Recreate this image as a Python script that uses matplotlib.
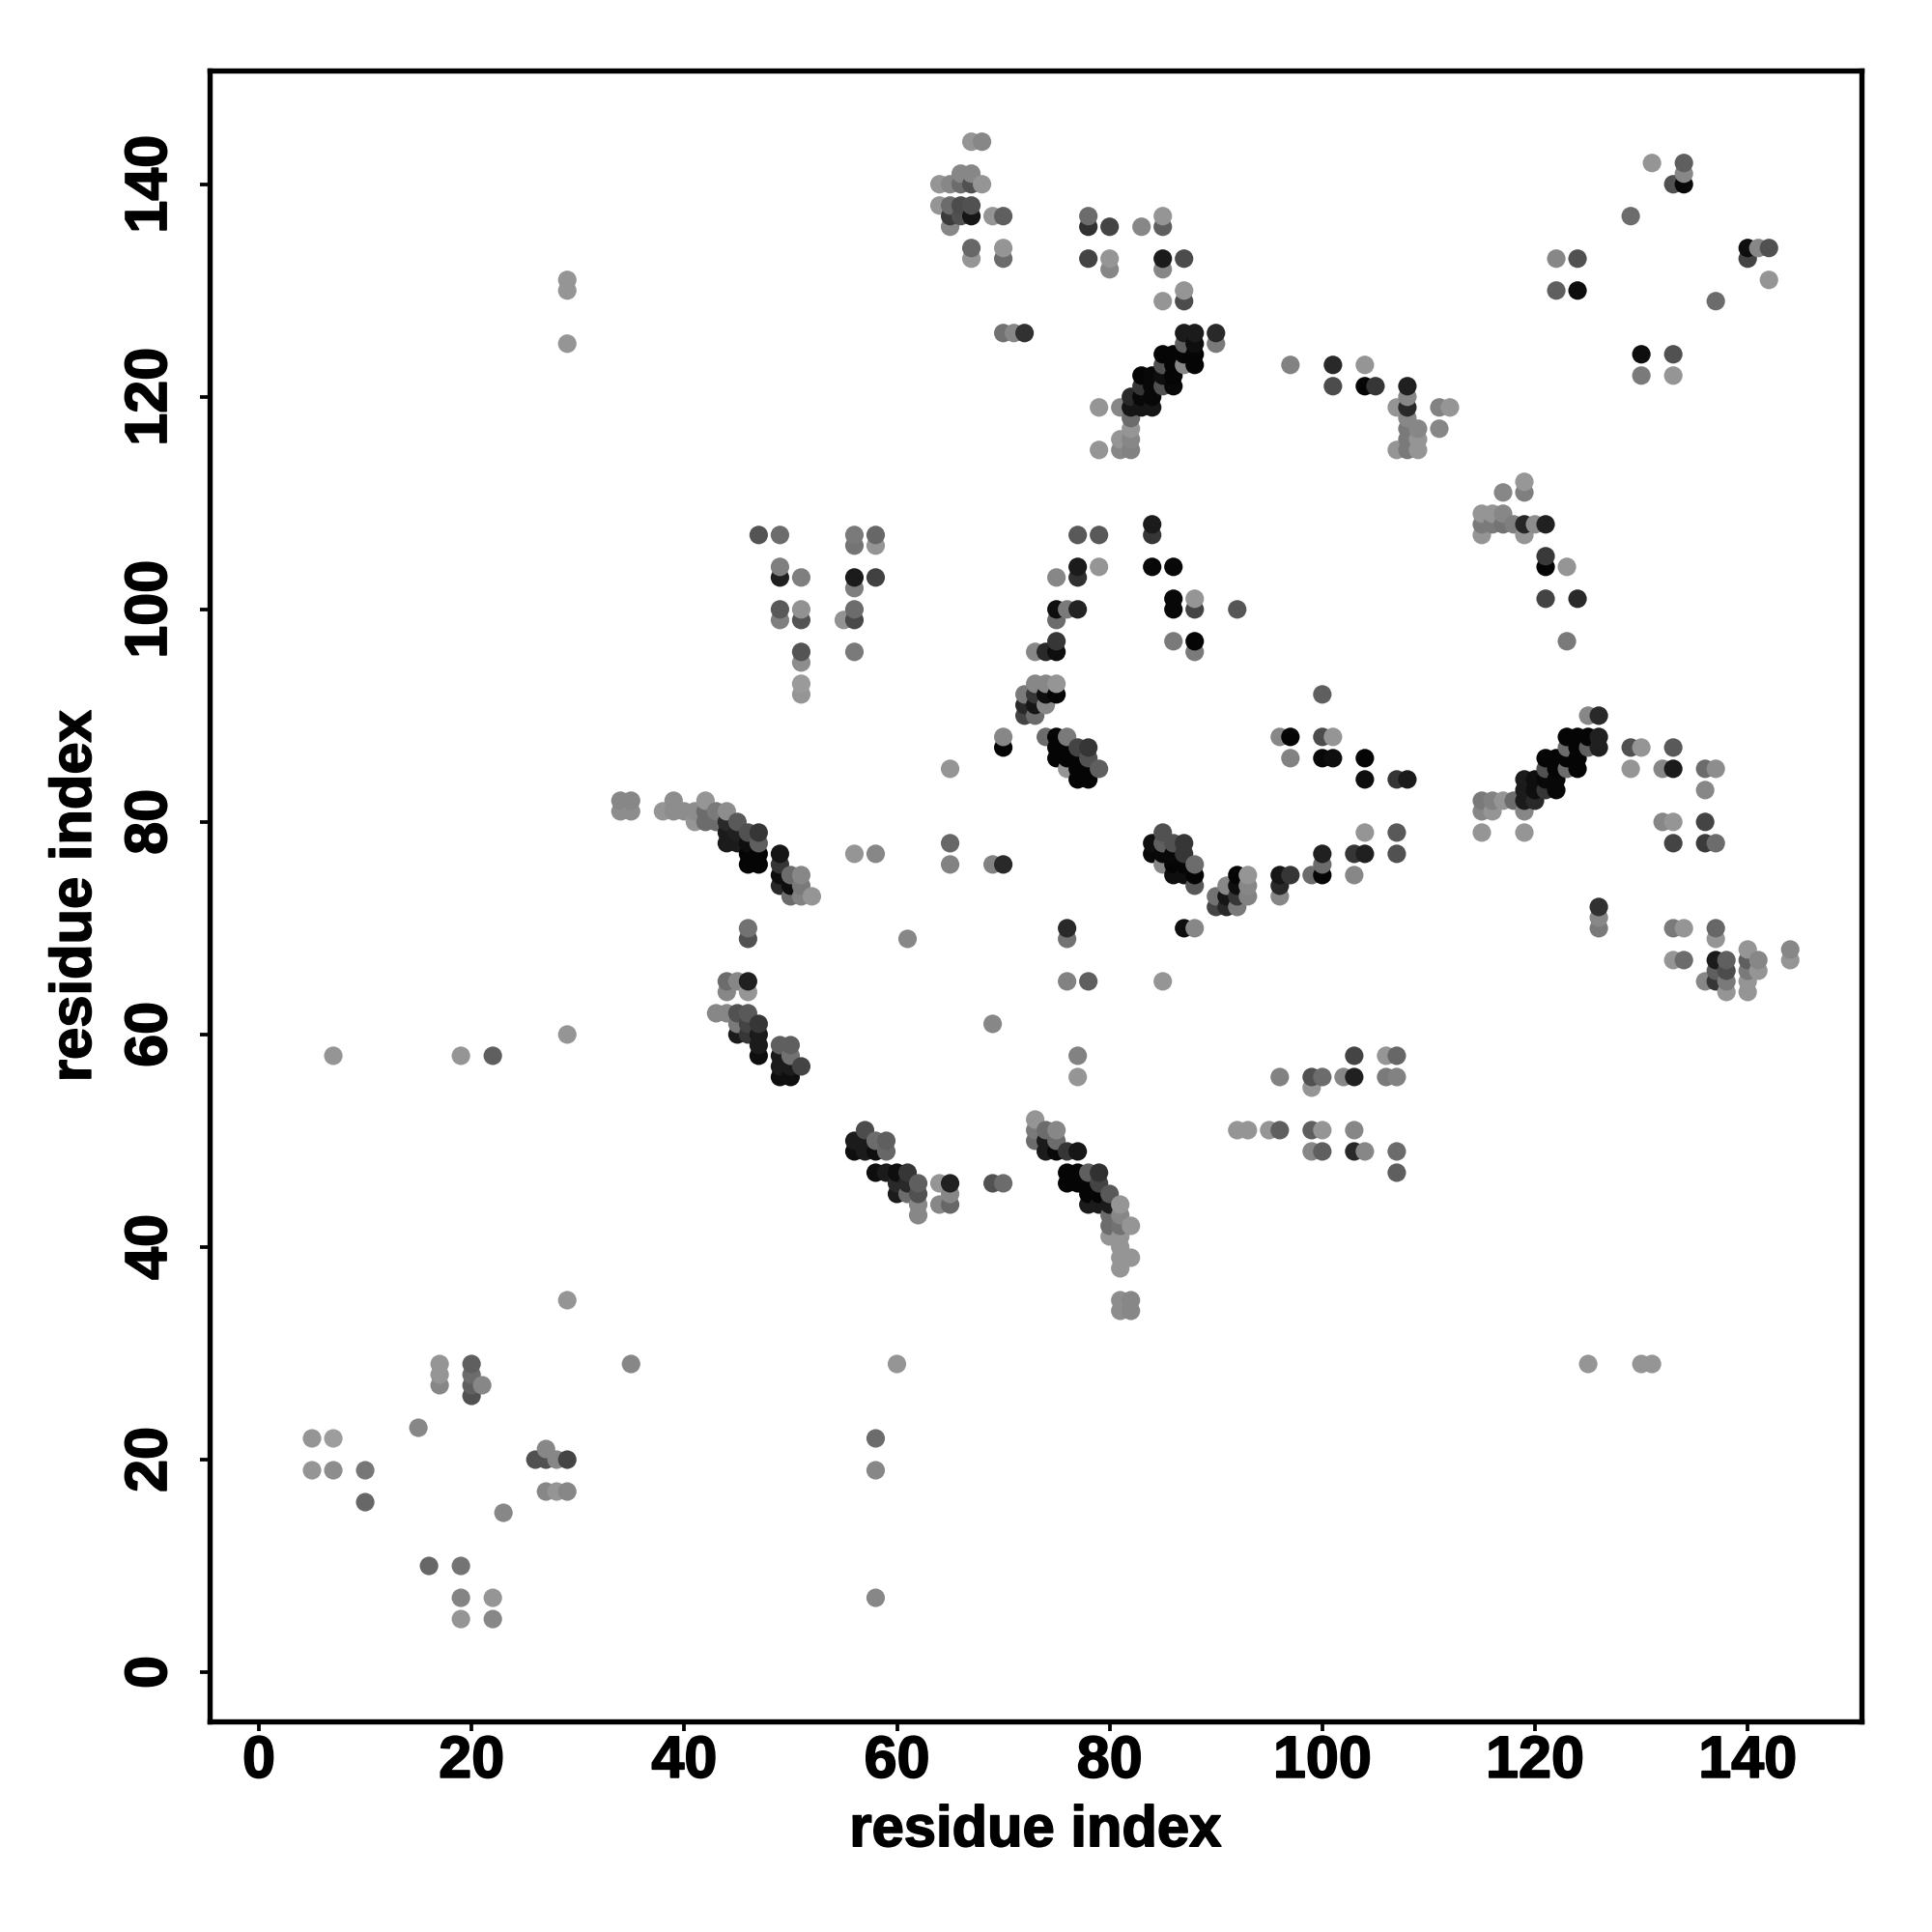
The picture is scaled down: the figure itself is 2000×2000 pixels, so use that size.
import matplotlib
matplotlib.use('Agg')
import matplotlib.pyplot as plt
import matplotlib.patheffects as pe
import numpy as np

# contact rows: one y value, then the x values and grey levels on that row
row_y = [144, 142, 141, 140, 138, 137, 136, 134, 133, 132, 131, 130, 129, 126, 125, 124,
         123, 122, 121, 120, 119, 118, 117, 116, 115, 112, 111, 109, 108, 107, 106, 105,
         104, 103, 102, 101, 100, 99, 97, 96, 95, 93, 92, 91, 90, 88, 87, 86,
         85, 84, 83, 82, 81, 80, 79, 78, 77, 76, 75, 74, 73, 72, 71, 70,
         69, 68, 67, 66, 65, 64, 62, 61, 60, 59, 58, 57, 56, 55, 52, 51,
         50, 49, 47, 46, 45, 44, 43, 42, 41, 40, 39, 38, 35, 34, 29, 28,
         27, 26, 23, 22, 21, 20, 19, 17, 16, 15, 10, 7, 5]

row_x = [
    [67, 68], [131, 134], [66, 67, 134], [64, 65, 66, 67, 68, 133, 134], [64, 65, 66, 67],
    [65, 66, 67, 69, 70, 78, 85, 129], [65, 78, 80, 83, 85], [67, 70, 140, 141, 142],
    [67, 70, 78, 80, 85, 87, 122, 124, 140], [80, 85], [29, 142], [29, 87, 122, 124],
    [85, 87, 137], [70, 71, 72, 87, 88, 90], [29, 87, 88, 90], [85, 86, 87, 88, 130, 133],
    [85, 86, 87, 88, 97, 101, 104], [83, 84, 85, 86, 130, 133],
    [83, 84, 85, 86, 101, 104, 105, 108], [82, 83, 84, 108],
    [79, 81, 82, 83, 84, 107, 108, 111, 112], [82, 108], [82, 108, 109, 111],
    [81, 82, 108, 109], [79, 81, 82, 107, 108, 109], [119], [117, 119], [115, 116, 117],
    [84, 115, 116, 117, 118, 119, 120, 121], [47, 49, 56, 58, 77, 79, 84, 115, 119],
    [56, 58], [121], [49, 77, 79, 84, 86, 121, 123], [49, 51, 56, 58, 75, 77], [56],
    [86, 88, 121, 124], [49, 51, 56, 75, 76, 77, 86, 88, 92], [49, 51, 55, 56, 75],
    [75, 86, 88, 123], [51, 56, 73, 74, 75, 88], [51], [51, 73, 74, 75],
    [51, 72, 73, 74, 75, 100], [72, 73, 74], [72, 73, 125, 126],
    [70, 74, 75, 76, 96, 97, 100, 101, 123, 124, 125, 126],
    [70, 75, 76, 77, 78, 123, 124, 125, 126, 129, 130, 133],
    [75, 76, 77, 78, 97, 100, 101, 104, 121, 122, 123, 124],
    [65, 76, 77, 78, 79, 121, 122, 123, 124, 129, 132, 133, 136, 137],
    [77, 78, 104, 107, 108, 119, 120, 121, 122], [119, 120, 121, 122, 136],
    [34, 35, 39, 42, 115, 116, 117, 118, 119, 120],
    [34, 35, 38, 39, 40, 41, 42, 43, 44, 115, 116, 119],
    [41, 42, 43, 44, 45, 132, 133, 136], [44, 45, 46, 47, 85, 104, 107, 115, 119],
    [44, 45, 46, 47, 65, 84, 85, 86, 87, 133, 136, 137],
    [46, 47, 49, 56, 58, 84, 85, 86, 87, 100, 103, 104, 107],
    [46, 47, 49, 65, 69, 70, 85, 86, 87, 88, 100],
    [49, 50, 51, 86, 87, 88, 92, 93, 96, 97, 99, 100, 103],
    [49, 50, 51, 88, 91, 92, 93, 96], [50, 51, 52, 90, 91, 92, 93, 96],
    [90, 91, 92, 126], [126], [46, 76, 87, 88, 126, 133, 134, 137], [46, 61, 76, 137],
    [140, 144], [133, 134, 137, 138, 140, 141, 144], [137, 138, 140, 141],
    [44, 45, 46, 76, 78, 85, 136, 137, 138, 140], [44, 46, 138, 140], [43, 44, 45, 46],
    [45, 46, 47, 69], [29, 45, 46, 47], [47, 49, 50],
    [7, 19, 22, 47, 49, 50, 77, 103, 106, 107], [49, 50, 51],
    [49, 50, 77, 96, 99, 100, 102, 103, 106, 107], [99], [73],
    [57, 73, 74, 75, 92, 93, 95, 96, 99, 100, 103], [56, 57, 58, 59, 73, 74, 75],
    [56, 57, 58, 59, 74, 75, 76, 77, 99, 100, 103, 104, 107],
    [58, 59, 60, 61, 76, 77, 78, 79, 107],
    [60, 61, 62, 64, 65, 69, 70, 76, 77, 78, 79], [60, 61, 62, 65, 78, 79, 80],
    [62, 64, 65, 78, 79, 80, 81], [62, 80, 81], [80, 81, 82], [80, 81], [81], [81, 82],
    [81], [29, 81, 82], [81, 82], [17, 20, 35, 60, 125, 130, 131], [17, 20], [17, 20, 21],
    [20], [15], [5, 7, 58], [27], [26, 27, 28, 29], [5, 7, 10, 58], [27, 28, 29], [10],
    [23], [16, 19], [19, 22, 58], [19, 22],
]

row_grey = [
    [.55, .5], [.55, .35], [.5, .5, .5], [.55, .5, .4, .3, .55, .3, .03], [.55, .4, .28, .3],
    [.22, .3, .08, .55, .35, .4, .55, .4], [.5, .18, .25, .5, .35], [.38, .55, .05, .5, .3],
    [.55, .4, .25, .55, .1, .28, .5, .3, .25], [.5, .5], [.55, .55], [.55, .55, .35, .05],
    [.55, .28, .4], [.42, .5, .18, .1, .1, .15], [.55, .35, .05, .45], [.02, .02, .02, .02, .05, .3],
    [.3, .02, .5, .02, .48, .15, .55], [.02, .03, .05, .02, .45, .55],
    [.2, .03, .3, .03, .28, .02, .2, .12], [.15, .03, .03, .5],
    [.55, .5, .08, .08, .08, .55, .15, .48, .55], [.4, .5], [.55, .45, .5, .5],
    [.55, .5, .45, .55], [.55, .5, .48, .55, .45, .55], [.56], [.5, .47], [.55, .55, .5],
    [.1, .45, .45, .43, .47, .14, .52, .12], [.31, .4, .45, .38, .33, .33, .2, .55, .55],
    [.43, .55], [.21], [.47, .1, .55, .03, .03, .02, .55], [.12, .47, .1, .24, .5, .18], [.47],
    [.03, .55, .25, .15], [.33, .54, .4, .05, .45, .13, .03, .25, .32], [.47, .31, .54, .27, .4],
    [.2, .45, .02, .45], [.31, .45, .5, .15, .05, .45], [.52], [.57, .5, .5, .55],
    [.55, .45, .2, .05, .02, .35], [.15, .08, .5], [.25, .4, .5, .15],
    [.5, .4, .02, .45, .5, .02, .28, .55, .02, .02, .02, .12],
    [.02, .02, .02, .25, .2, .4, .02, .35, .12, .3, .55, .33],
    [.02, .02, .02, .3, .48, .03, .05, .02, .02, .02, .02, .02],
    [.55, .55, .02, .02, .35, .3, .02, .4, .02, .55, .5, .1, .4, .52],
    [.02, .02, .05, .2, .1, .1, .05, .03, .03], [.1, .05, .2, .03, .5],
    [.5, .5, .52, .55, .45, .48, .55, .4, .1, .15],
    [.52, .52, .55, .52, .52, .52, .4, .45, .52, .5, .55, .5],
    [.55, .4, .4, .15, .33, .5, .55, .25], [.1, .12, .3, .2, .3, .55, .33, .55, .55],
    [.1, .1, .05, .35, .38, .05, .35, .3, .2, .25, .22, .4],
    [.02, .02, .08, .55, .5, .03, .03, .03, .2, .12, .2, .12, .3],
    [.02, .02, .2, .48, .48, .15, .5, .02, .02, .4, .4],
    [.05, .4, .5, .05, .05, .02, .02, .55, .08, .2, .4, .02, .5],
    [.15, .05, .45, .33, .5, .05, .5, .15], [.4, .48, .55, .42, .08, .2, .48, .5],
    [.25, .15, .45, .18], [.5], [.42, .15, .05, .5, .45, .45, .55, .38], [.3, .5, .42, .55],
    [.55, .5], [.55, .4, .1, .35, .35, .5, .55], [.35, .28, .45, .55],
    [.4, .5, .12, .48, .35, .55, .5, .2, .45, .55], [.5, .55, .55, .55], [.5, .5, .3, .33],
    [.45, .25, .2, .5], [.55, .1, .2, .1], [.1, .35, .35],
    [.55, .55, .35, .05, .1, .42, .48, .25, .55, .38], [.1, .1, .25],
    [.05, .05, .55, .48, .3, .4, .5, .12, .45, .48], [.55], [.55],
    [.28, .45, .4, .5, .55, .55, .55, .35, .35, .55, .5], [.1, .1, .4, .35, .4, .1, .4],
    [.05, .1, .05, .38, .1, .03, .2, .08, .5, .35, .15, .5, .4],
    [.05, .1, .05, .2, .02, .02, .35, .18, .35],
    [.15, .15, .35, .55, .12, .3, .4, .02, .02, .02, .25], [.1, .4, .3, .5, .02, .02, .33],
    [.5, .5, .38, .1, .1, .1, .55], [.5, .4, .5], [.4, .42, .55], [.55, .55], [.55], [.55, .55],
    [.55], [.55, .52, .5], [.52, .5], [.55, .35, .5, .55, .55, .55, .55], [.55, .4], [.5, .35, .5],
    [.3], [.5], [.55, .58, .4], [.5], [.3, .3, .5, .25], [.55, .52, .44, .5], [.5, .55, .5], [.38],
    [.5], [.38, .43], [.49, .55, .5], [.55, .5],
]

tick_vals = [0, 20, 40, 60, 80, 100, 120, 140]

xs = np.concatenate(row_x)
ys = np.concatenate([[y] * len(r) for y, r in zip(row_y, row_x)])
greys = np.concatenate(row_grey)
assert len(xs) == len(greys)

# later points sit on top: increasing x, then increasing y
order = np.lexsort((ys, xs))

plt.rcParams['font.family'] = ['Liberation Sans']
plt.rcParams['font.weight'] = 'bold'

fig = plt.figure(figsize=(20, 20), dpi=100, facecolor='w')
ax = fig.add_axes([217 / 2000, 218 / 2000, 1710 / 2000, 1709 / 2000])
ax.scatter(xs[order], ys[order], s=190, c=[str(min(g * 1.06, 1)) for g in greys[order]], linewidths=0, zorder=3)
ax.set_xlim(-4.63, 150.7)
ax.set_ylim(-4.63, 150.7)
ax.set_xticks(tick_vals)
ax.set_yticks(tick_vals)
ax.tick_params(length=7, width=2.7, labelsize=44)
ax.tick_params(axis='x', pad=3)
ax.tick_params(axis='y', pad=16)
heavy = [pe.withStroke(linewidth=1.2, foreground='k')]
for lab in ax.get_xticklabels():
    lab.set_path_effects(heavy)
for lab in ax.get_yticklabels():
    lab.set_rotation(90)
    lab.set_va('center')
    lab.set_path_effects(heavy)
for s in ax.spines.values():
    s.set_linewidth(3.9)
ax.set_xlabel("residue index", fontsize=43, fontweight='bold', labelpad=11, path_effects=heavy)
ax.set_ylabel("residue index", fontsize=43, fontweight='bold', labelpad=16, path_effects=heavy)
plt.savefig("out.png", dpi=100)
